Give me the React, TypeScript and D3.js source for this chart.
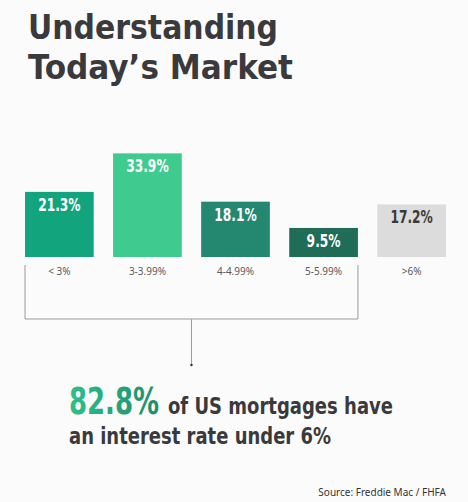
import React from "react";
import * as d3 from "d3";

const categories = ["< 3%", "3-3.99%", "4-4.99%", "5-5.99%", ">6%"];
const shares = [21.3, 33.9, 18.1, 9.5, 17.2];
const barColors = ["#12a47d", "#3fcb8f", "#24876f", "#1f6d57", "#dcdcdc"];
const labelColors = ["#ffffff", "#ffffff", "#ffffff", "#ffffff", "#3a3a3a"];
const titleLines = ["Understanding", "Today\u2019s Market"];
const titleWidths = [250, 265];
const bracketFrom = 0;
const bracketTo = 3;

const W = 468;
const H = 502;
const heavy = "'DejaVu Sans Condensed', 'DejaVu Sans', sans-serif";
const ink = "#3a3a3c";

const App: React.FC = () => {
    const x = d3
        .scaleBand<string>()
        .domain(categories)
        .range([25, 446])
        .paddingInner(0.22)
        .paddingOuter(0);

    const baseline = 257;
    const y = d3.scaleLinear().domain([0, 35]).range([baseline, 150]);

    const bx0 = x(categories[bracketFrom]) as number;
    const bx1 = (x(categories[bracketTo]) as number) + x.bandwidth();
    const bmid = (bx0 + bx1) / 2;
    const bTop = 265;
    const bBottom = 319;
    const total = d3.sum(shares.slice(bracketFrom, bracketTo + 1));

    return (
        <svg
            width={W}
            height={H}
            style={{ position: "absolute", left: 0, top: 0, background: "#fcfbfc" }}
        >
            <defs>
                <linearGradient id="hl" x1="0" x2="1" y1="0" y2="0">
                    <stop offset="0%" stopColor="#2cc08a" />
                    <stop offset="100%" stopColor="#1f8c6b" />
                </linearGradient>
            </defs>
            <rect width={W} height={H} fill="#fcfbfc" />

            {titleLines.map((t, i) => (
                <text
                    key={t}
                    x={28}
                    y={39 + i * 39.5}
                    fontFamily={heavy}
                    fontWeight="bold"
                    fontSize={34}
                    fill={ink}
                    textLength={titleWidths[i]}
                    lengthAdjust="spacingAndGlyphs"
                >
                    {t}
                </text>
            ))}

            {categories.map((c, i) => {
                const bx = x(c) as number;
                const cx = bx + x.bandwidth() / 2;
                const top = y(shares[i]);
                return (
                    <g key={c}>
                        <rect
                            x={bx}
                            y={top}
                            width={x.bandwidth()}
                            height={baseline - top}
                            fill={barColors[i]}
                        />
                        <text
                            transform={`translate(${cx},${top + 19}) scale(0.8,1)`}
                            textAnchor="middle"
                            fontFamily={heavy}
                            fontWeight="bold"
                            fontSize={17}
                            fill={labelColors[i]}
                        >
                            {shares[i].toFixed(1)}%
                        </text>
                        <text
                            x={cx}
                            y={275}
                            textAnchor="middle"
                            fontFamily="'Noto Sans', sans-serif"
                            fontSize={10}
                            fill="#5a5a5a"
                        >
                            {c}
                        </text>
                    </g>
                );
            })}

            <path
                d={`M${bx0},${bTop}V${bBottom}H${bx1}V${bTop}M${bmid},${bBottom}V${bBottom + 46}`}
                fill="none"
                stroke="#9a9a9a"
                strokeWidth={1}
            />
            <circle cx={bmid} cy={bBottom + 46} r={1.2} fill="#333" />

            <text
                transform="translate(69,414) scale(0.78,1)"
                fontFamily={heavy}
                fontWeight="bold"
                fontSize={37}
                fill="url(#hl)"
            >
                {total.toFixed(1)}%
            </text>
            <text
                x={168}
                y={414}
                fontFamily={heavy}
                fontWeight="bold"
                fontSize={23}
                fill={ink}
                textLength={225}
                lengthAdjust="spacingAndGlyphs"
            >
                of US mortgages have
            </text>
            <text
                x={69}
                y={444}
                fontFamily={heavy}
                fontWeight="bold"
                fontSize={23}
                fill={ink}
                textLength={262}
                lengthAdjust="spacingAndGlyphs"
            >
                an interest rate under 6%
            </text>

            <text
                x={446}
                y={496}
                textAnchor="end"
                fontFamily="'Noto Sans', sans-serif"
                fontSize={10}
                fill="#333"
            >
                Source: Freddie Mac / FHFA
            </text>
        </svg>
    );
};

export default App;
